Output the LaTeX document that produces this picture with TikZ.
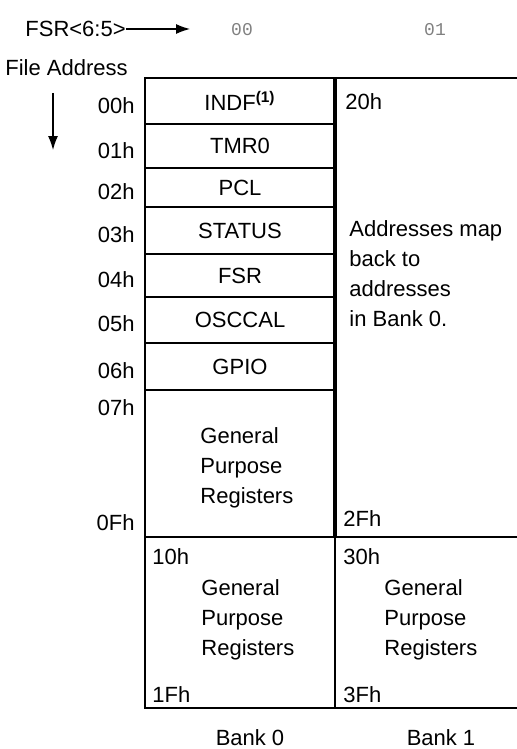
\documentclass[tikz,border=0pt]{standalone}
\usepackage{fontspec}
\setmainfont{Liberation Sans}
\newfontfamily\bankmono{Liberation Mono}
\usetikzlibrary{arrows.meta,positioning}
\definecolor{bitgray}{RGB}{128,128,128}
\newcommand{\regfont}{\fontsize{11}{15}\selectfont}
\tikzset{
  regcell/.style={draw, line width=0.9pt, inner sep=0pt, outer sep=0pt,
    minimum width=95pt, align=center, font=\regfont},
  bankcell/.style={draw, line width=0.9pt, inner sep=0pt, outer sep=0pt},
  divider/.style={line width=1.6pt},
  addr/.style={inner sep=0pt, anchor=east, font=\regfont},
  corner/.style={inner sep=0pt, anchor=west, font=\regfont},
  note/.style={inner sep=0pt, anchor=north west, align=left, font=\regfont},
  bankbits/.style={inner sep=0pt, text=bitgray, font=\bankmono\fontsize{9}{11}\selectfont},
  ptr/.style={-{Latex[length=7pt,width=5pt]}, line width=0.6pt}
}

\begin{document}
\begin{tikzpicture}[x=0.5pt, y=-0.5pt]
\clip (0,0) rectangle (517,749);

% bank select and address direction
\node[inner sep=0pt, anchor=west, font=\regfont] (fsr) at (25,29) {FSR<6:5>};
\coordinate (fsrtip) at (190,29);
\draw[ptr] (fsr.east) -- (fsrtip);
\node[bankbits] (bits0) at (242,30) {00};
\node[bankbits] (bits1) at (435,30) {01};
\node[inner sep=0pt, anchor=west, font=\regfont] (fileaddr) at (5,68) {File Address};
\coordinate (down0) at (53,93);
\coordinate (down1) at (53,150);
\draw[ptr] (down0) -- (down1);

% bank 0 special function registers
\node[regcell, minimum height=23.3pt, anchor=north west] (indf) at (145,77.7) {INDF\textsuperscript{\bfseries(1)}};
\node[regcell, minimum height=22pt, below=0pt of indf] (tmr) {TMR0};
\node[regcell, minimum height=19.2pt, below=0pt of tmr] (pcl) {PCL};
\node[regcell, minimum height=23.8pt, below=0pt of pcl] (status) {STATUS};
\node[regcell, minimum height=21.2pt, below=0pt of status] (fsrreg) {FSR};
\node[regcell, minimum height=23.3pt, below=0pt of fsrreg] (osccal) {OSCCAL};
\node[regcell, minimum height=23.35pt, below=0pt of osccal] (gpio) {GPIO};
\node[regcell, minimum height=73.35pt, below=0pt of gpio] (gpr) {};
\node[bankcell, minimum width=95pt, minimum height=85.65pt, below=0pt of gpr] (gprlow0) {};

% bank 1
\node[bankcell, minimum width=110pt, minimum height=229.5pt, anchor=north west] (mirror) at (335,77.7) {};
\node[bankcell, minimum width=110pt, minimum height=85.65pt, below=0pt of mirror] (gprlow1) {};
\draw[divider] (mirror.north west) -- (mirror.south west);

% file addresses
\node[addr] (a00) at ([xshift=-5pt,yshift=-2.5pt]indf.west) {00h};
\node[addr] (a01) at ([xshift=-5pt,yshift=-2pt]tmr.west) {01h};
\node[addr] (a02) at ([xshift=-5pt,yshift=-2pt]pcl.west) {02h};
\node[addr] (a03) at ([xshift=-5pt,yshift=-2pt]status.west) {03h};
\node[addr] (a04) at ([xshift=-5pt,yshift=-2pt]fsrreg.west) {04h};
\node[addr] (a05) at ([xshift=-5pt,yshift=-2pt]osccal.west) {05h};
\node[addr] (a06) at ([xshift=-5pt,yshift=-2pt]gpio.west) {06h};
\node[addr] (a07) at ([xshift=-5pt,yshift=-9pt]gpr.north west) {07h};
\node[addr] (a0f) at ([xshift=-5pt,yshift=7pt]gpr.south west) {0Fh};

% corner addresses
\node[corner] (a20) at ([xshift=5pt,yshift=-12pt]mirror.north west) {20h};
\node[corner] (a2f) at ([xshift=4pt,yshift=9.3pt]mirror.south west) {2Fh};
\node[corner] (a10) at ([xshift=3.5pt,yshift=-10pt]gprlow0.north west) {10h};
\node[corner] (a1f) at ([xshift=3.5pt,yshift=6.5pt]gprlow0.south west) {1Fh};
\node[corner] (a30) at ([xshift=4pt,yshift=-10pt]gprlow1.north west) {30h};
\node[corner] (a3f) at ([xshift=4pt,yshift=6.5pt]gprlow1.south west) {3Fh};

% cell texts
\node[note] (gprtext) at ([xshift=27.5pt,yshift=-18.5pt]gpr.north west) {General\\Purpose\\Registers};
\node[note] (gprtext0) at ([xshift=28pt,yshift=-21.15pt]gprlow0.north west) {General\\Purpose\\Registers};
\node[note] (gprtext1) at ([xshift=24.5pt,yshift=-21.15pt]gprlow1.north west) {General\\Purpose\\Registers};
\node[note] (maptext) at ([xshift=7pt,yshift=-71.15pt]mirror.north west) {Addresses map\\back to\\addresses\\in Bank 0.};

% bank names
\node[inner sep=0pt, font=\regfont] (bank0) at (250,738) {Bank 0};
\node[inner sep=0pt, font=\regfont] (bank1) at (441,738) {Bank 1};
\end{tikzpicture}
\end{document}
